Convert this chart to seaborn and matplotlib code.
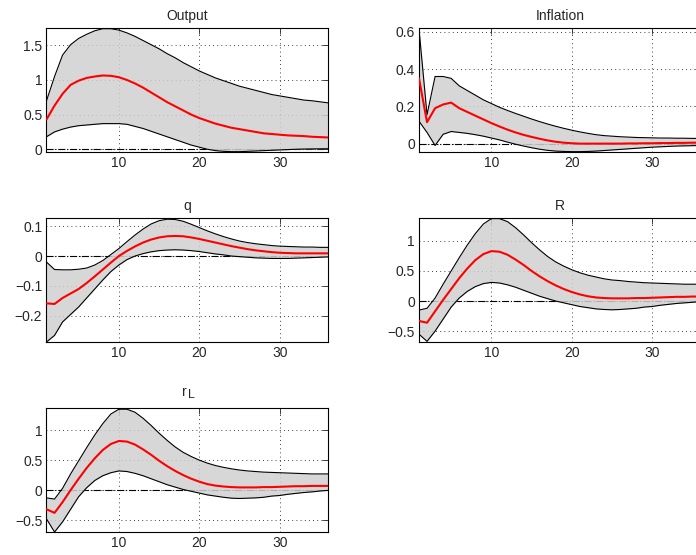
import numpy as np
import pandas as pd
import matplotlib
matplotlib.use("Agg")
import matplotlib.pyplot as plt
import seaborn as sns

horizon = list(range(1, 37))

# Output
output_med = [0.43, 0.63, 0.80, 0.93, 0.99, 1.03, 1.05, 1.065, 1.06, 1.04, 1.00, 0.95, 0.89, 0.82, 0.75,
              0.68, 0.62, 0.56, 0.50, 0.45, 0.41, 0.37, 0.34, 0.31, 0.29, 0.27, 0.25, 0.23, 0.22, 0.21,
              0.20, 0.195, 0.19, 0.18, 0.175, 0.17]
output_hi = [0.70, 1.05, 1.36, 1.51, 1.60, 1.66, 1.71, 1.74, 1.74, 1.72, 1.68, 1.63, 1.57, 1.51, 1.45,
             1.38, 1.32, 1.25, 1.19, 1.13, 1.08, 1.03, 0.99, 0.95, 0.91, 0.88, 0.85, 0.82, 0.79, 0.77,
             0.75, 0.73, 0.71, 0.70, 0.685, 0.67]
output_lo = [0.18, 0.25, 0.29, 0.32, 0.34, 0.35, 0.36, 0.37, 0.37, 0.37, 0.36, 0.33, 0.30, 0.26, 0.22,
             0.18, 0.14, 0.10, 0.06, 0.03, 0.0, -0.02, -0.03, -0.035, -0.035, -0.03, -0.025, -0.02,
             -0.015, -0.01, -0.005, 0.0, 0.003, 0.005, 0.006, 0.007]

# Inflation
infl_med = [0.35, 0.115, 0.19, 0.21, 0.22, 0.19, 0.17, 0.15, 0.13, 0.11, 0.092, 0.075, 0.06, 0.047, 0.036,
            0.026, 0.017, 0.01, 0.005, 0.002, 0.0, 0.0, 0.0, 0.0, 0.0, 0.0, 0.001, 0.001, 0.002, 0.002,
            0.003, 0.003, 0.004, 0.004, 0.005, 0.005]
infl_hi = [0.615, 0.155, 0.36, 0.36, 0.35, 0.31, 0.285, 0.26, 0.235, 0.215, 0.195, 0.178, 0.162, 0.147,
           0.132, 0.118, 0.105, 0.093, 0.082, 0.072, 0.063, 0.055, 0.048, 0.043, 0.04, 0.037, 0.035,
           0.033, 0.032, 0.031, 0.030, 0.030, 0.029, 0.029, 0.028, 0.028]
infl_lo = [0.12, 0.06, -0.01, 0.05, 0.065, 0.06, 0.055, 0.048, 0.04, 0.03, 0.02, 0.008, -0.003, -0.013,
           -0.022, -0.03, -0.036, -0.04, -0.042, -0.043, -0.043, -0.042, -0.04, -0.037, -0.034, -0.031,
           -0.028, -0.025, -0.022, -0.019, -0.017, -0.015, -0.013, -0.012, -0.011, -0.01]

# q
q_med = [-0.158, -0.16, -0.14, -0.125, -0.11, -0.09, -0.068, -0.045, -0.022, 0.0, 0.017, 0.032, 0.045,
         0.055, 0.062, 0.066, 0.067, 0.066, 0.062, 0.057, 0.051, 0.045, 0.039, 0.033, 0.028, 0.023,
         0.019, 0.016, 0.013, 0.011, 0.010, 0.009, 0.009, 0.009, 0.009, 0.009]
q_hi = [-0.02, -0.045, -0.046, -0.046, -0.044, -0.04, -0.03, -0.015, 0.005, 0.025, 0.048, 0.07, 0.09,
        0.107, 0.118, 0.123, 0.122, 0.116, 0.106, 0.095, 0.084, 0.074, 0.065, 0.057, 0.05, 0.045, 0.041,
        0.038, 0.035, 0.033, 0.032, 0.031, 0.030, 0.030, 0.029, 0.029]
q_lo = [-0.287, -0.265, -0.22, -0.195, -0.17, -0.14, -0.11, -0.08, -0.052, -0.03, -0.012, 0.0, 0.008,
        0.014, 0.018, 0.02, 0.021, 0.02, 0.018, 0.015, 0.011, 0.007, 0.004, 0.0, -0.002, -0.004, -0.006,
        -0.007, -0.008, -0.008, -0.008, -0.007, -0.006, -0.005, -0.004, -0.003]

# R
r_med = [-0.33, -0.36, -0.17, 0.02, 0.20, 0.38, 0.54, 0.68, 0.78, 0.83, 0.82, 0.77, 0.69, 0.60, 0.50,
         0.41, 0.33, 0.26, 0.20, 0.15, 0.11, 0.08, 0.06, 0.05, 0.045, 0.045, 0.045, 0.05, 0.05, 0.055,
         0.06, 0.065, 0.07, 0.07, 0.075, 0.075]
r_hi = [-0.15, -0.12, 0.05, 0.28, 0.50, 0.72, 0.93, 1.12, 1.28, 1.37, 1.37, 1.32, 1.22, 1.10, 0.97,
        0.85, 0.74, 0.65, 0.58, 0.52, 0.47, 0.43, 0.40, 0.37, 0.35, 0.34, 0.325, 0.315, 0.305, 0.30,
        0.295, 0.29, 0.285, 0.28, 0.28, 0.28]
r_lo = [-0.55, -0.67, -0.50, -0.30, -0.10, 0.05, 0.16, 0.24, 0.29, 0.31, 0.30, 0.27, 0.23, 0.18, 0.13,
        0.08, 0.04, 0.0, -0.03, -0.06, -0.09, -0.11, -0.13, -0.14, -0.145, -0.14, -0.13, -0.12, -0.10,
        -0.09, -0.07, -0.055, -0.04, -0.03, -0.02, -0.01]

# r_L
rl_med = [-0.32, -0.38, -0.20, 0.0, 0.19, 0.37, 0.53, 0.67, 0.77, 0.82, 0.81, 0.76, 0.68, 0.59, 0.49,
          0.40, 0.32, 0.25, 0.19, 0.14, 0.10, 0.075, 0.06, 0.05, 0.045, 0.045, 0.045, 0.05, 0.05, 0.055,
          0.06, 0.065, 0.065, 0.07, 0.07, 0.07]
rl_hi = [-0.13, -0.15, 0.03, 0.27, 0.49, 0.71, 0.92, 1.11, 1.27, 1.35, 1.35, 1.30, 1.20, 1.08, 0.95,
         0.83, 0.72, 0.63, 0.56, 0.50, 0.45, 0.41, 0.38, 0.355, 0.335, 0.32, 0.31, 0.30, 0.295, 0.29,
         0.285, 0.28, 0.275, 0.27, 0.27, 0.27]
rl_lo = [-0.48, -0.70, -0.53, -0.32, -0.11, 0.04, 0.16, 0.24, 0.29, 0.32, 0.31, 0.28, 0.24, 0.19, 0.14,
         0.09, 0.05, 0.01, -0.02, -0.05, -0.08, -0.10, -0.12, -0.135, -0.14, -0.135, -0.13, -0.12,
         -0.10, -0.09, -0.07, -0.055, -0.04, -0.03, -0.015, -0.005]

panels = [
    ("Output", output_med, output_lo, output_hi, (-0.04, 1.75), [0, 0.5, 1, 1.5]),
    ("Inflation", infl_med, infl_lo, infl_hi, (-0.045, 0.62), [0, 0.2, 0.4, 0.6]),
    ("q", q_med, q_lo, q_hi, (-0.287, 0.127), [-0.2, -0.1, 0, 0.1]),
    ("R", r_med, r_lo, r_hi, (-0.68, 1.38), [-0.5, 0, 0.5, 1]),
    ("r_L", rl_med, rl_lo, rl_hi, (-0.70, 1.37), [-0.5, 0, 0.5, 1]),
]

sns.set_style("white")
plt.rcParams["font.family"] = ["Liberation Sans", "DejaVu Sans"]
plt.rcParams["font.size"] = 10

fig = plt.figure(figsize=(6.96, 5.55), dpi=100)

# axes boxes in figure fractions (right column runs off the edge like the original)
lefts = [0.0668, 0.602, 0.0668, 0.602, 0.0668]
bottoms = [0.7261, 0.7261, 0.3838, 0.3838, 0.0414]
w, h = 0.4045, 0.2234

for (title, med, lo, hi, ylim, yticks), x0, y0 in zip(panels, lefts, bottoms):
    ax = fig.add_axes([x0, y0, w, h])
    d = pd.DataFrame({"t": horizon, "med": med, "lo": lo, "hi": hi})

    ax.axhline(0, color="black", ls="-.", lw=0.8, zorder=1)
    ax.fill_between(d["t"], d["lo"], d["hi"], color="#d0d0d0", alpha=0.85, lw=0, zorder=2)
    sns.lineplot(data=d, x="t", y="hi", color="black", lw=0.8, ax=ax, zorder=3)
    sns.lineplot(data=d, x="t", y="lo", color="black", lw=0.8, ax=ax, zorder=3)
    sns.lineplot(data=d, x="t", y="med", color="red", lw=1.5, ax=ax, zorder=4)

    ax.set_xlim(1, 36)
    ax.set_ylim(*ylim)
    ax.set_xticks([10, 20, 30])
    ax.set_yticks(yticks)
    ax.set_yticklabels([f"{v:g}".replace("-", "\u2212") for v in yticks])
    ax.set_xlabel("")
    ax.set_ylabel("")
    if title == "r_L":
        # MATLAB-style subscript: plain r, with a near full-size L set a little lower
        ax.annotate("r", xy=(0.5, 1.0), xycoords="axes fraction", xytext=(-0.5, 9),
                    textcoords="offset points", ha="right", va="baseline", fontsize=10)
        ax.annotate("L", xy=(0.5, 1.0), xycoords="axes fraction", xytext=(0.5, 7),
                    textcoords="offset points", ha="left", va="baseline", fontsize=9)
    else:
        ax.set_title(title, fontsize=10, pad=6)
    ax.grid(True, color="black", ls=(0, (1, 4)), lw=0.6)
    ax.tick_params(direction="in", length=4, width=0.6, top=True, right=True, labelsize=10, pad=3)
    for s in ax.spines.values():
        s.set_color("black")
        s.set_linewidth(0.8)

fig.savefig("out.png", dpi=100)
